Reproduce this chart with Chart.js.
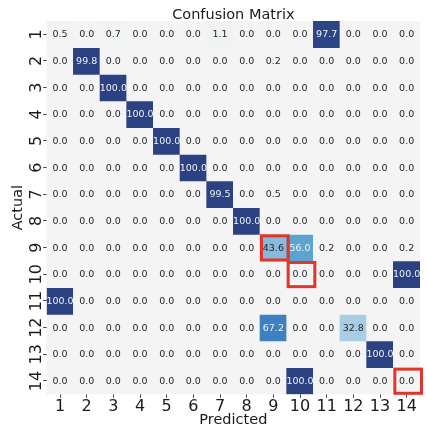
<!DOCTYPE html>
<html><head><meta charset="utf-8">
<script src="https://cdn.jsdelivr.net/npm/chart.js@4/dist/chart.umd.min.js"></script>
<style>html,body{margin:0;padding:0;background:#fff}#wrap{width:426px;height:429px}</style>
</head><body><div id="wrap"><canvas id="c" width="426" height="429"></canvas></div>
<script>
const chartTitle = 'Confusion Matrix';
const predictedLabels = ['1','2','3','4','5','6','7','8','9','10','11','12','13','14'];
const actualLabels = ['1','2','3','4','5','6','7','8','9','10','11','12','13','14'];
const actual01 = [0.5, 0.0, 0.7, 0.0, 0.0, 0.0, 1.1, 0.0, 0.0, 0.0, 97.7, 0.0, 0.0, 0.0];
const actual02 = [0.0, 99.8, 0.0, 0.0, 0.0, 0.0, 0.0, 0.0, 0.2, 0.0, 0.0, 0.0, 0.0, 0.0];
const actual03 = [0.0, 0.0, 100.0, 0.0, 0.0, 0.0, 0.0, 0.0, 0.0, 0.0, 0.0, 0.0, 0.0, 0.0];
const actual04 = [0.0, 0.0, 0.0, 100.0, 0.0, 0.0, 0.0, 0.0, 0.0, 0.0, 0.0, 0.0, 0.0, 0.0];
const actual05 = [0.0, 0.0, 0.0, 0.0, 100.0, 0.0, 0.0, 0.0, 0.0, 0.0, 0.0, 0.0, 0.0, 0.0];
const actual06 = [0.0, 0.0, 0.0, 0.0, 0.0, 100.0, 0.0, 0.0, 0.0, 0.0, 0.0, 0.0, 0.0, 0.0];
const actual07 = [0.0, 0.0, 0.0, 0.0, 0.0, 0.0, 99.5, 0.0, 0.5, 0.0, 0.0, 0.0, 0.0, 0.0];
const actual08 = [0.0, 0.0, 0.0, 0.0, 0.0, 0.0, 0.0, 100.0, 0.0, 0.0, 0.0, 0.0, 0.0, 0.0];
const actual09 = [0.0, 0.0, 0.0, 0.0, 0.0, 0.0, 0.0, 0.0, 43.6, 56.0, 0.2, 0.0, 0.0, 0.2];
const actual10 = [0.0, 0.0, 0.0, 0.0, 0.0, 0.0, 0.0, 0.0, 0.0, 0.0, 0.0, 0.0, 0.0, 100.0];
const actual11 = [100.0, 0.0, 0.0, 0.0, 0.0, 0.0, 0.0, 0.0, 0.0, 0.0, 0.0, 0.0, 0.0, 0.0];
const actual12 = [0.0, 0.0, 0.0, 0.0, 0.0, 0.0, 0.0, 0.0, 67.2, 0.0, 0.0, 32.8, 0.0, 0.0];
const actual13 = [0.0, 0.0, 0.0, 0.0, 0.0, 0.0, 0.0, 0.0, 0.0, 0.0, 0.0, 0.0, 100.0, 0.0];
const actual14 = [0.0, 0.0, 0.0, 0.0, 0.0, 0.0, 0.0, 0.0, 0.0, 100.0, 0.0, 0.0, 0.0, 0.0];
const highlightActual = [9, 10, 14];
const highlightPredicted = [9, 10, 14];

const matrix = [actual01, actual02, actual03, actual04, actual05, actual06, actual07,
  actual08, actual09, actual10, actual11, actual12, actual13, actual14];

// colour map (style)
const cmapStops = [
  [0, [244,244,244]],
  [32.8, [168,205,228]],
  [43.6, [134,187,220]],
  [56.0, [94,162,208]],
  [67.2, [61,129,192]],
  [100, [43,65,130]]
];
function colorFor(v) {
  for (let i = 1; i < cmapStops.length; i++) {
    const [v1, c1] = cmapStops[i];
    const [v0, c0] = cmapStops[i-1];
    if (v <= v1) {
      const t = (v - v0) / (v1 - v0);
      const c = c0.map((a, k) => Math.round(a + (c1[k] - a) * t));
      return `rgb(${c[0]},${c[1]},${c[2]})`;
    }
  }
  const c = cmapStops[cmapStops.length-1][1];
  return `rgb(${c[0]},${c[1]},${c[2]})`;
}

Chart.defaults.font.family = "'DejaVu Sans', sans-serif";

const datasets = matrix.map((row, r) => ({
  label: 'Actual ' + actualLabels[r],
  data: row.map(() => [r + 0.5, r + 1.5]),
  values: row,
  backgroundColor: row.map(colorFor),
  borderWidth: 0,
  barPercentage: 1,
  categoryPercentage: 1,
  grouped: false
}));

const cellPlugin = {
  id: 'cells',
  beforeDatasetsDraw(chart) {
    const {ctx, chartArea: a} = chart;
    ctx.save();
    ctx.fillStyle = 'rgb(244,244,244)';
    ctx.fillRect(a.left, a.top, a.right - a.left, a.bottom - a.top);
    ctx.restore();
  },
  afterDatasetsDraw(chart) {
    const {ctx} = chart;
    const xs = chart.scales.x, ys = chart.scales.y;
    ctx.save();
    ctx.font = "9.5px 'DejaVu Sans'";
    ctx.textAlign = 'center';
    ctx.textBaseline = 'middle';
    matrix.forEach((row, r) => {
      row.forEach((v, c) => {
        const x = xs.getPixelForValue(c);
        const y = ys.getPixelForValue(r + 1);
        ctx.fillStyle = v > 50 ? '#eef2f8' : '#262626';
        ctx.fillText(v.toFixed(1), x, y + 0.5);
      });
    });
    const w = xs.getPixelForValue(1) - xs.getPixelForValue(0);
    const h = Math.abs(ys.getPixelForValue(2) - ys.getPixelForValue(1));
    ctx.strokeStyle = '#e0352a';
    ctx.lineWidth = 3;
    highlightActual.forEach((ra, i) => {
      const cx = xs.getPixelForValue(highlightPredicted[i] - 1);
      const cy = ys.getPixelForValue(ra);
      const left = cx - w / 2, top = cy - h / 2;
      ctx.strokeRect(left + 1.5, top + 1.5, w, h - 2.5);
    });
    ctx.restore();
  },
  afterDraw(chart) {
    const {ctx, chartArea: a} = chart;
    ctx.save();
    ctx.font = "14.5px 'DejaVu Sans'";
    ctx.fillStyle = '#1a1a1a';
    ctx.textAlign = 'center';
    ctx.textBaseline = 'alphabetic';
    ctx.fillText(chartTitle, (a.left + a.right) / 2, 19);
    ctx.restore();
  }
};

new Chart(document.getElementById('c'), {
  type: 'bar',
  data: { labels: predictedLabels, datasets },
  options: {
    responsive: false,
    devicePixelRatio: 1,
    animation: false,
    events: [],
    layout: { padding: { top: 21, right: 6, left: 0, bottom: 0 } },
    plugins: { legend: { display: false }, title: { display: false }, tooltip: { enabled: false } },
    scales: {
      x: {
        type: 'category',
        offset: true,
        grid: { display: true, drawOnChartArea: false, drawTicks: true, tickLength: 3.5, offset: false, color: '#444', lineWidth: 1 },
        border: { display: false },
        ticks: { font: { size: 16 }, color: '#1a1a1a', padding: -1, maxRotation: 0, minRotation: 0, autoSkip: false },
        title: { display: true, text: 'Predicted', font: { size: 14.5 }, color: '#1a1a1a', padding: { top: 0, bottom: 0 } },
        afterFit(s) { s.height = 34.7; }
      },
      y: {
        type: 'linear',
        min: 0.5,
        max: 14.5,
        reverse: true,
        afterBuildTicks(s) { s.ticks = actualLabels.map((l, i) => ({ value: i + 1 })); },
        grid: { display: true, drawOnChartArea: false, drawTicks: true, tickLength: 3.5, color: '#444', lineWidth: 1 },
        border: { display: false },
        ticks: { callback: (v, i) => actualLabels[i], font: { size: 16 }, color: '#1a1a1a', minRotation: 90, maxRotation: 90, crossAlign: 'center', padding: -4, autoSkip: false },
        title: { display: true, text: 'Actual', font: { size: 14.5 }, color: '#1a1a1a', padding: { top: 10, bottom: 0 } },
        afterFit(s) { s.width = 46.7; }
      }
    }
  },
  plugins: [cellPlugin]
});
</script></body></html>
